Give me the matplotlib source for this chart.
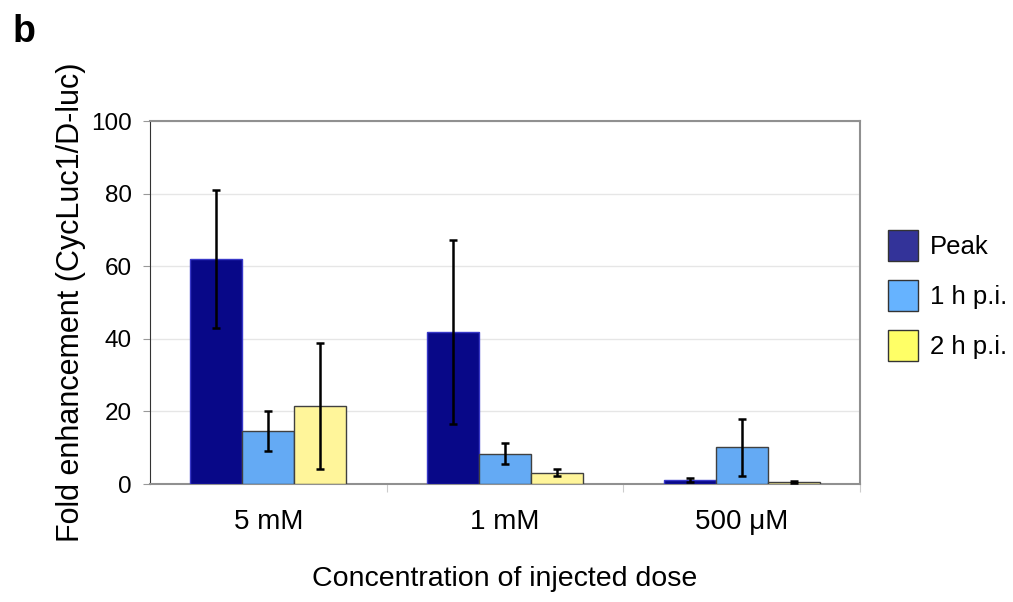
import numpy as np
import matplotlib
matplotlib.use('Agg')
import matplotlib.pyplot as plt
from matplotlib.patches import Patch

plt.rcParams['font.family'] = ['Liberation Sans', 'DejaVu Sans']

# Data
doses = ['5 mM', '1 mM', '500 \u03bcM']
series = ['Peak', '1 h p.i.', '2 h p.i.']
peak = [62.0, 41.8, 1.1]
peak_err = [19.0, 25.3, 0.6]
h1 = [14.6, 8.4, 10.1]
h1_err = [5.4, 3.0, 7.8]
h2 = [21.5, 3.1, 0.6]
h2_err = [17.3, 0.9, 0.3]

BAR_COLORS = ['#080888', '#64aaf4', '#fff59a']
BAR_EDGES = ['#3838c8', '#404040', '#404040']
LEGEND_COLORS = ['#333399', '#66b3ff', '#ffff66']

fig = plt.figure(figsize=(10.13, 6.02), dpi=100)
ax = fig.add_axes([0.148, 0.196, 0.701, 0.603])

x = np.arange(len(doses)) + 0.5
width = 0.22
values = [peak, h1, h2]
errors = [peak_err, h1_err, h2_err]
for i in range(3):
    ax.bar(x + (i - 1) * width, values[i], width, color=BAR_COLORS[i],
           edgecolor=BAR_EDGES[i], linewidth=1.0, zorder=3,
           yerr=errors[i], error_kw=dict(ecolor='black', elinewidth=1.8,
                                         capsize=2.7, capthick=1.8, zorder=4))

ax.set_xlim(0, 3)
ax.set_ylim(0, 100)
ax.set_yticks(range(0, 101, 20))
ax.set_xticks([1, 2, 3], minor=False)
ax.set_xticklabels([])
ax.set_xticks(x, minor=True)
ax.set_xticklabels(doses, minor=True, fontsize=20)
ax.tick_params(axis='x', which='minor', length=0, pad=18)
ax.tick_params(axis='x', which='major', length=6, color='#cccccc', direction='out')
ax.tick_params(axis='y', labelsize=17.5, length=5, color='#999999', pad=8)
ax.grid(axis='y', color='#e6e6e6', linewidth=1.0, zorder=0)

ax.spines['left'].set_color('#333333')
for s in ['top', 'right', 'bottom']:
    ax.spines[s].set_color('#909090')
    ax.spines[s].set_linewidth(1.5)

ax.set_ylabel('Fold enhancement (CycLuc1/D-luc)', fontsize=22, labelpad=4)
ax.set_xlabel('Concentration of injected dose', fontsize=20.5, labelpad=22)

handles = [Patch(facecolor=c, edgecolor='#333333', linewidth=1.0, label=l)
           for c, l in zip(LEGEND_COLORS, series)]
fig.legend(handles=handles, loc='upper left', bbox_to_anchor=(0.877, 0.618),
           frameon=False, fontsize=18.5, handlelength=1.15, handleheight=1.5,
           labelspacing=0.72, handletextpad=0.45, borderpad=0, borderaxespad=0)

fig.text(0.012, 0.93, 'b', fontsize=27, fontweight='bold')

fig.savefig('out.png', dpi=100)
